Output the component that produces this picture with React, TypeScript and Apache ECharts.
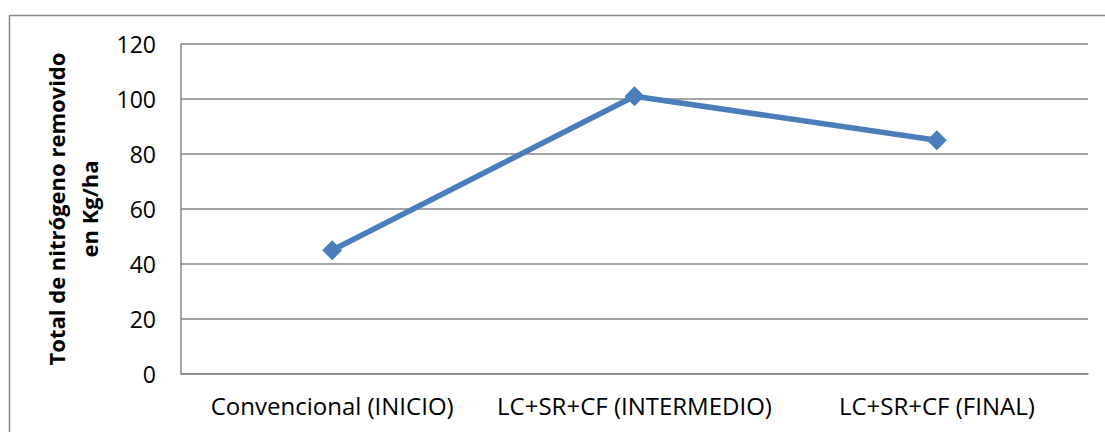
import React, { useEffect, useRef } from "react";
import * as echarts from "echarts";

const categories = ["Convencional (INICIO)", "LC+SR+CF (INTERMEDIO)", "LC+SR+CF (FINAL)"];
const values = [45, 101, 85];
const yTicks = { min: 0, max: 120, interval: 20 };
const yTitle = "Total de nitrógeno removido\nen Kg/ha";

const FONT = "'Open Sans', sans-serif";

export default function App() {
  const ref = useRef<HTMLDivElement>(null);
  useEffect(() => {
    if (!ref.current) return;
    const chart = echarts.init(ref.current, undefined, { renderer: "svg" });
    chart.setOption({
      animation: false,
      backgroundColor: "#ffffff",
      graphic: [
        {
          type: "rect",
          shape: { x: 9.5, y: 15.5, width: 1110, height: 430 },
          style: { fill: "none", stroke: "#868686", lineWidth: 1.5 },
          silent: true,
        },
      ],
      grid: { left: 181, right: 17, top: 44, bottom: 58 },
      xAxis: {
        type: "category",
        data: categories,
        boundaryGap: true,
        axisLine: { show: true, lineStyle: { color: "#868686", width: 1.5 } },
        axisTick: { show: false },
        axisLabel: { color: "#000", fontFamily: FONT, fontSize: 24, margin: 19, interval: 0 },
        splitLine: { show: false },
      },
      yAxis: {
        type: "value",
        min: yTicks.min,
        max: yTicks.max,
        interval: yTicks.interval,
        name: yTitle,
        nameLocation: "middle",
        nameRotate: 90,
        nameGap: 71,
        nameTextStyle: { color: "#000", fontFamily: FONT, fontSize: 22, fontWeight: "bold", lineHeight: 33 },
        axisLine: { show: true, lineStyle: { color: "#868686", width: 1.5 } },
        axisTick: { show: false },
        axisLabel: { color: "#000", fontFamily: FONT, fontSize: 23, margin: 25 },
        splitLine: { show: true, lineStyle: { color: "#868686", width: 1.5 } },
      },
      series: [
        {
          type: "line",
          data: values,
          symbol: "diamond",
          symbolSize: 20,
          lineStyle: { color: "#4A7EBB", width: 5.5 },
          itemStyle: { color: "#4A7EBB" },
        },
      ],
    });
    return () => chart.dispose();
  }, []);
  return (
    <div
      ref={ref}
      style={{ position: "fixed", left: 0, top: 0, width: 1105, height: 432 }}
    />
  );
}
